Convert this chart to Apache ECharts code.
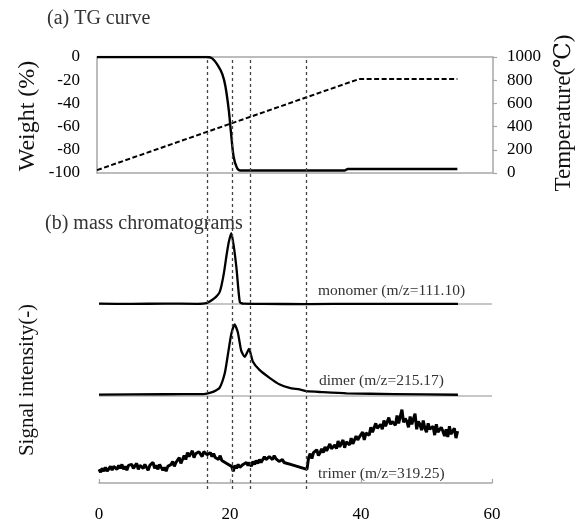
<!DOCTYPE html>
<html><head><meta charset="utf-8">
<script src="https://cdn.jsdelivr.net/npm/echarts@6/dist/echarts.min.js"></script>
<style>html,body{margin:0;padding:0;background:#fff}#c{width:583px;height:523px}</style>
</head><body><div id="c"></div>
<script>
// ---- (a) TG curve ----
var tgTime   = [0, 16.5, 17.4, 18.4, 19.0, 19.45, 19.95, 20.3, 20.7, 21.2, 21.7, 37.5, 38.0, 54.6];
var tgWeight = [0, 0, -1, -8, -15, -25, -45, -65, -86, -95.5, -97.8, -97.8, -96.5, -96.5];
var tempTime = [0, 39.7, 54.6];
var tempVal  = [25, 810, 810];
// ---- (b) mass chromatograms ----
var monomerTime = [0, 5, 10, 15, 16.4, 17.2, 17.9, 18.4, 18.7, 19.1, 19.45, 19.8, 20.2, 20.6, 21.0, 21.5, 22, 25, 31.7, 40, 54.8];
var monomerVal  = [0.5, 0.2, 0.5, 0.3, 1, 4, 7.7, 12, 19, 33, 49, 63, 72.7, 58, 36, 2, 0.5, 0.3, 0, 0.3, 0.2];
var dimerTime = [0, 10, 16, 16.6, 17.5, 18.4, 19.2, 19.7, 20.2, 20.7, 21.2, 21.7, 22.25, 22.9, 23.5, 24.5, 26.1, 27.6, 29.1, 30.6, 31.7, 34, 37.8, 45, 54.8];
var dimerVal  = [1.5, 1.8, 2, 2.7, 4.5, 8.3, 23.3, 43.3, 63.3, 73.3, 65, 46.7, 40, 48.3, 35, 26.7, 18.3, 11.7, 8.3, 6.7, 5, 4, 2.7, 2, 1.3];
var trimerStep = 0.25;
var trimerVal = [
14,11,15,12, 16,12,14,17, 13,17,16,14, 18,15,19,14, 17,13,18,16,
19,15,16,20, 14,18,17,15, 19,16,13,18, 17,21,15,18, 14,19,16,13,
16,12,17,15, 19,22,17,21, 21,26,20,24, 28,24,31,27, 29,33,26,30,
28,32,30,27, 32,34,29,31, 31,27,30,26, 27,24,28,23, 25,21,23,19,
20,17,12,18, 15,19,16,14, 19,17,21,18, 21,17,22,19, 23,20,24,21,
22,27,24,26, 27,29,24,28, 25,27,22,24, 24,21,23,20, 22,19,21,18,
20,17,19,16, 18,15,16,14, 26,30,25,31, 29,34,28,31, 35,31,37,33,
34,40,35,37, 39,35,43,37, 38,44,36,42, 43,39,46,40, 42,48,44,47,
47,52,44,51, 53,49,57,52, 54,61,56,58, 60,55,64,58, 58,67,60,63,
64,59,69,61, 60,75,62,66, 63,57,68,60, 58,71,55,63, 60,54,64,56,
52,61,55,57, 58,49,60,52, 50,57,53,48, 55,47,58,50, 49,56,46,53];
var monomerOffset = 183, dimerOffset = 89, trimerOffset = 0;
var markTimes = [16.5, 20.3, 23.1, 31.7];

function pairs(t, v, off) { return t.map(function (x, i) { return [x, v[i] + off]; }); }
var trimerData = trimerVal.map(function (v, i) { return [i * trimerStep, v + trimerOffset]; });

var serif = '"Liberation Serif","DejaVu Serif",serif';
var chart = echarts.init(document.getElementById('c'));
chart.setOption({
  animation: false,
  textStyle: { fontFamily: serif },
  grid: [
    { left: 97, width: 396, top: 57, height: 116, show: true, borderColor: '#a6a6a6', borderWidth: 1.5, backgroundColor: 'transparent' },
    { left: 99, width: 393, top: 222, height: 267 },
    { left: 99, width: 393, top: 57, height: 432 }
  ],
  xAxis: [
    { gridIndex: 0, type: 'value', min: 0, max: 60, show: false },
    { gridIndex: 1, type: 'value', min: 0, max: 60, interval: 20,
      axisLine: { lineStyle: { color: '#a6a6a6', width: 1.5 } },
      axisTick: { inside: true, length: 4, lineStyle: { color: '#a6a6a6', width: 1.2 } },
      splitLine: { show: false },
      axisLabel: { color: '#000', fontSize: 17, fontFamily: serif, margin: 23 } },
    { gridIndex: 2, type: 'value', min: 0, max: 60, show: false }
  ],
  yAxis: [
    { gridIndex: 0, type: 'value', min: -100, max: 0, interval: 20, position: 'left',
      axisLine: { show: false }, axisTick: { show: false }, splitLine: { show: false },
      axisLabel: { color: '#000', fontSize: 17, fontFamily: serif, margin: 17 } },
    { gridIndex: 0, type: 'value', min: 0, max: 1000, interval: 200, position: 'right',
      axisLine: { show: false }, axisTick: { show: true, length: 4, lineStyle: { color: '#a6a6a6', width: 1.2 } },
      splitLine: { show: false },
      axisLabel: { color: '#000', fontSize: 17, fontFamily: serif, margin: 14, formatter: function (v) { return String(v); } } },
    { gridIndex: 1, type: 'value', min: 0, max: 267, show: false },
    { gridIndex: 2, type: 'value', min: 0, max: 1, show: false }
  ],
  series: [
    { type: 'line', xAxisIndex: 1, yAxisIndex: 2, data: [], symbol: 'none', z: 1,
      markLine: { silent: true, symbol: 'none', label: { show: false }, z: 1,
        lineStyle: { color: '#b5b5b5', width: 1.5, type: 'solid' },
        data: [{ yAxis: monomerOffset }, { yAxis: dimerOffset }] } },
    { type: 'line', xAxisIndex: 0, yAxisIndex: 0, data: pairs(tgTime, tgWeight, 0), symbol: 'none', smooth: 0.3, z: 3,
      lineStyle: { color: '#000', width: 2.4 } },
    { type: 'line', xAxisIndex: 0, yAxisIndex: 1, data: pairs(tempTime, tempVal, 0), symbol: 'none', z: 3,
      lineStyle: { color: '#000', width: 2, type: [5, 2.5] } },
    { type: 'line', xAxisIndex: 1, yAxisIndex: 2, data: pairs(monomerTime, monomerVal, monomerOffset), symbol: 'none', smooth: 0.2, z: 3,
      lineStyle: { color: '#000', width: 2.3 } },
    { type: 'line', xAxisIndex: 1, yAxisIndex: 2, data: pairs(dimerTime, dimerVal, dimerOffset), symbol: 'none', smooth: 0.2, z: 3,
      lineStyle: { color: '#000', width: 2.3 } },
    { type: 'line', xAxisIndex: 1, yAxisIndex: 2, data: trimerData, symbol: 'none', z: 3,
      lineStyle: { color: '#000', width: 3 } },
    { type: 'line', xAxisIndex: 2, yAxisIndex: 3, data: [], symbol: 'none', z: 4,
      markLine: { silent: true, symbol: 'none', label: { show: false },
        lineStyle: { color: '#444', width: 1.3, type: [3, 3] },
        data: markTimes.map(function (t) { return { xAxis: t }; }) } }
  ],
  graphic: [
    { type: 'text', left: 47, top: 9, style: { text: '(a) TG curve', font: '20px ' + serif, fill: '#333' } },
    { type: 'text', left: 45, top: 214, style: { text: '(b) mass chromatograms', font: '20px ' + serif, fill: '#333' } },
    { type: 'text', x: 28, y: 116, rotation: Math.PI / 2, style: { text: 'Weight (%)', font: '24px ' + serif, fill: '#111', align: 'center', verticalAlign: 'middle' } },
    { type: 'text', x: 564, y: 113, rotation: Math.PI / 2, style: { text: 'Temperature(℃)', font: '23px ' + serif, fill: '#111', align: 'center', verticalAlign: 'middle' } },
    { type: 'text', x: 27, y: 380, rotation: Math.PI / 2, style: { text: 'Signal intensity(-)', font: '21px ' + serif, fill: '#111', align: 'center', verticalAlign: 'middle' } },
    { type: 'text', left: 318, top: 283, style: { text: 'monomer (m/z=111.10)', font: '15.5px ' + serif, fill: '#333' } },
    { type: 'text', left: 319, top: 373, style: { text: 'dimer (m/z=215.17)', font: '15.5px ' + serif, fill: '#333' } },
    { type: 'text', left: 318, top: 466, style: { text: 'trimer (m/z=319.25)', font: '15.5px ' + serif, fill: '#333' } }
  ]
});
</script></body></html>
